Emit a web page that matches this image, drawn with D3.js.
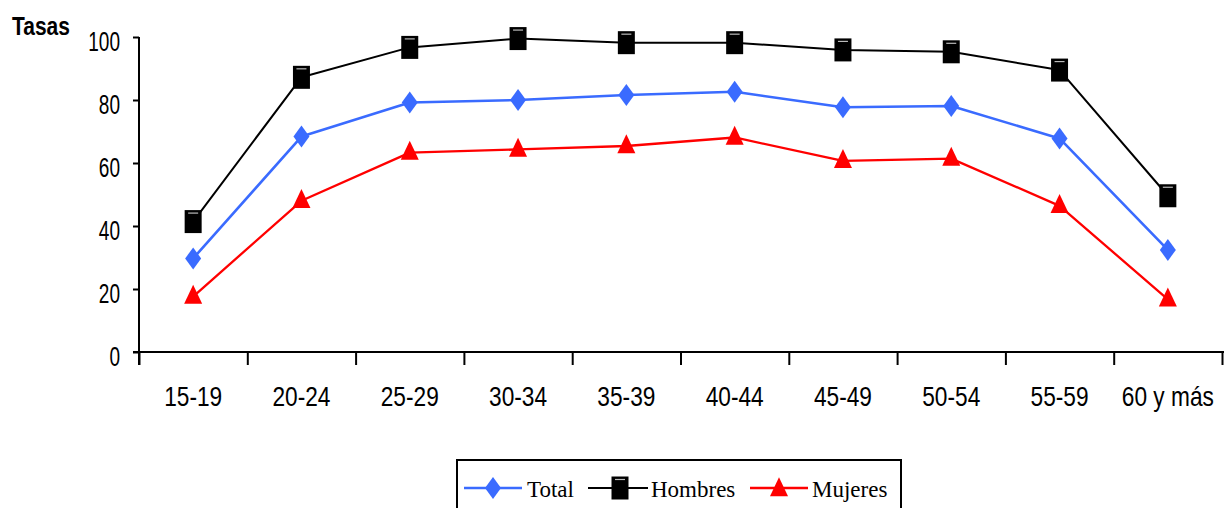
<!DOCTYPE html>
<html><head><meta charset="utf-8">
<script src="https://cdn.jsdelivr.net/npm/d3@7"></script>
<style>
html,body{margin:0;padding:0;background:#fff;}
svg{display:block;}
</style></head>
<body>
<svg id="chart" width="1229" height="508"></svg>
<script>
const categories = ["15-19","20-24","25-29","30-34","35-39","40-44","45-49","50-54","55-59","60 y más"];
const totalValues   = [29.7, 68.4, 79.2, 80.0, 81.6, 82.6, 77.7, 78.1, 67.8, 32.4];
const hombresValues = [41.4, 87.2, 96.7, 99.5, 98.2, 98.2, 95.9, 95.3, 89.5, 49.6];
const mujeresValues = [17.6, 48.0, 63.3, 64.3, 65.4, 68.1, 60.7, 61.4, 46.4, 16.7];
const yTicks = [0, 20, 40, 60, 80, 100];
const seriesNames = ["Total", "Hombres", "Mujeres"];

const series = [
  {name: seriesNames[0], values: totalValues, color: "#3a6bff", width: 2.6, shape: "diamond"},
  {name: seriesNames[1], values: hombresValues, color: "#000000", width: 2, shape: "square"},
  {name: seriesNames[2], values: mujeresValues, color: "#ff0000", width: 2.3, shape: "triangle"}
];

const svg = d3.select("#chart");
const mLeft = 139, mRight = 1222, mTop = 37, mBottom = 352;

const x = d3.scaleBand().domain(categories).range([mLeft, mRight]).padding(0);
const xEdge = d3.scaleLinear().domain([0, categories.length]).range([mLeft, mRight]);
const y = d3.scaleLinear().domain([0, 100]).range([mBottom, mTop]);

function shapePath(shape, cx, cy) {
  if (shape === "diamond") {
    const w = 8, h = 11;
    return `M${cx},${cy-h}L${cx+w},${cy}L${cx},${cy+h}L${cx-w},${cy}Z`;
  } else if (shape === "square") {
    const w = 8.5, h = 11.5;
    return `M${cx-w},${cy-h}H${cx+w}V${cy+h}H${cx-w}Z`;
  } else {
    const w = 9, h = 19;
    return `M${cx},${cy-h*0.62}L${cx+w},${cy+h*0.38}L${cx-w},${cy+h*0.38}Z`;
  }
}

// Y axis
const yAxis = svg.append("g")
  .attr("transform", `translate(${mLeft},0)`)
  .call(d3.axisLeft(y).tickValues(yTicks).tickSize(6).tickPadding(14));
yAxis.select(".domain").remove();
yAxis.selectAll(".tick line").attr("stroke", "#000").attr("stroke-width", 2);
yAxis.selectAll(".tick text")
  .attr("font-family", "'Liberation Sans', Arial, sans-serif")
  .attr("font-size", 28)
  .attr("fill", "#000")
  .attr("x", 0).attr("dy", "0.47em")
  .attr("transform", "translate(-19,0) scale(0.68,1)");
svg.append("line").attr("x1", mLeft).attr("x2", mLeft)
  .attr("y1", y(100)).attr("y2", mBottom + 13)
  .attr("stroke", "#000").attr("stroke-width", 2);

// X axis ticks at band boundaries
const xAxisTicks = svg.append("g")
  .attr("transform", `translate(0,${mBottom})`)
  .call(d3.axisBottom(xEdge).tickValues(d3.range(categories.length + 1)).tickSize(13).tickFormat(""));
xAxisTicks.select(".domain").remove();
xAxisTicks.selectAll(".tick line").attr("stroke", "#000").attr("stroke-width", 2);
svg.append("line").attr("x1", mLeft - 6).attr("x2", mRight + 2)
  .attr("y1", mBottom).attr("y2", mBottom)
  .attr("stroke", "#000").attr("stroke-width", 2);

// X labels
const xAxisLabels = svg.append("g")
  .attr("transform", `translate(0,${mBottom})`)
  .call(d3.axisBottom(x).tickSize(0).tickPadding(0));
xAxisLabels.select(".domain").remove();
xAxisLabels.selectAll(".tick text")
  .attr("font-family", "'Liberation Sans', Arial, sans-serif")
  .attr("font-size", 28)
  .attr("fill", "#000")
  .attr("y", 0).attr("dy", 0)
  .attr("transform", "translate(0,54) scale(0.81,1)");

// Y title
svg.append("text").attr("x", 12).attr("y", 35)
  .attr("font-family", "'Liberation Sans', Arial, sans-serif")
  .attr("font-weight", "bold").attr("font-size", 25)
  .attr("transform", "translate(12,0) scale(0.84,1) translate(-12,0)")
  .text("Tasas");

// Lines and markers
const line = d3.line().x((d, i) => x(categories[i]) + x.bandwidth() / 2).y(d => y(d));
series.forEach(s => {
  svg.append("path").datum(s.values)
    .attr("d", line).attr("fill", "none")
    .attr("stroke", s.color).attr("stroke-width", s.width)
    .attr("stroke-linejoin", "round");
  const g = svg.append("g");
  g.selectAll("path").data(s.values).join("path")
    .attr("d", (d, i) => shapePath(s.shape, x(categories[i]) + x.bandwidth() / 2, y(d)))
    .attr("fill", s.color);
  if (s.shape === "square") {
    g.selectAll("line").data(s.values).join("line")
      .attr("x1", (d, i) => x(categories[i]) + x.bandwidth() / 2 - 5)
      .attr("x2", (d, i) => x(categories[i]) + x.bandwidth() / 2 + 5)
      .attr("y1", d => y(d) - 8.5).attr("y2", d => y(d) - 8.5)
      .attr("stroke", "#bbb").attr("stroke-width", 1.2);
  }
});

// Legend
const lg = svg.append("g");
lg.append("rect").attr("x", 457).attr("y", 460).attr("width", 444).attr("height", 70)
  .attr("fill", "#fff").attr("stroke", "#000").attr("stroke-width", 2);
const legendPos = [
  {lx1: 464, lx2: 522, mx: 493, tx: 527},
  {lx1: 588, lx2: 648, mx: 620, tx: 651},
  {lx1: 750, lx2: 808, mx: 779, tx: 812}
];
series.forEach((s, i) => {
  const p = legendPos[i];
  const ly = 488;
  lg.append("line").attr("x1", p.lx1).attr("x2", p.lx2).attr("y1", ly).attr("y2", ly)
    .attr("stroke", s.color).attr("stroke-width", s.width);
  lg.append("path").attr("d", shapePath(s.shape, p.mx, s.shape === "triangle" ? ly + 1 : ly)).attr("fill", s.color);
  if (s.shape === "square") {
    lg.append("line").attr("x1", p.mx - 5).attr("x2", p.mx + 5).attr("y1", ly - 8.5).attr("y2", ly - 8.5)
      .attr("stroke", "#bbb").attr("stroke-width", 1.2);
  }
  lg.append("text").attr("x", p.tx).attr("y", 497)
    .attr("font-family", "'Liberation Serif', 'Times New Roman', serif")
    .attr("font-size", 23).attr("fill", "#000")
    .text(s.name);
});
</script>
</body></html>
